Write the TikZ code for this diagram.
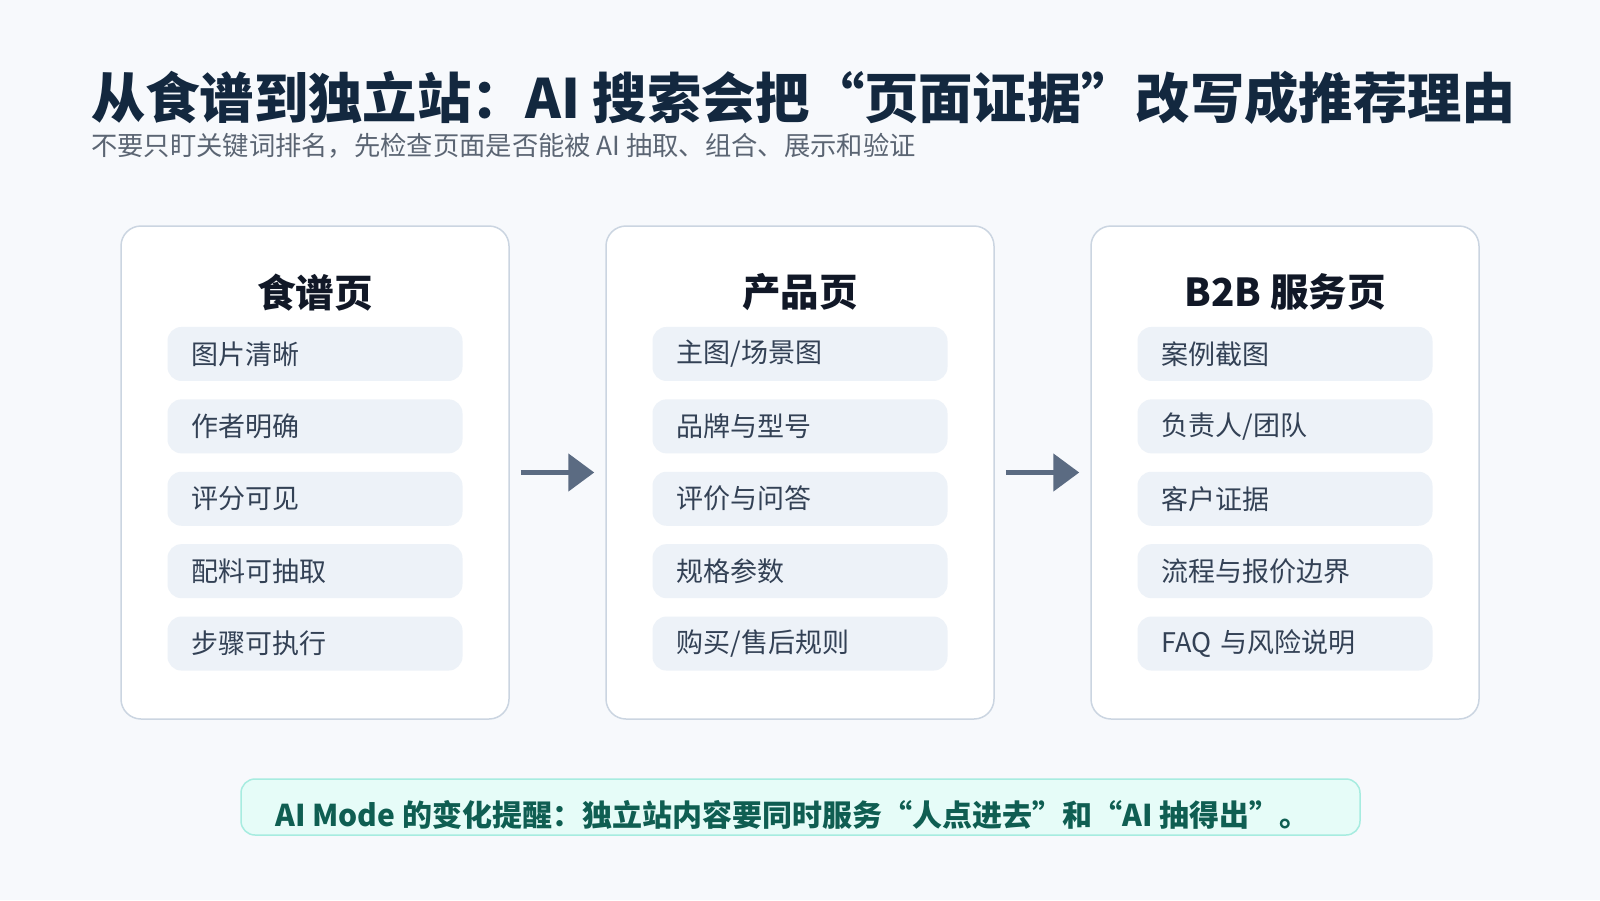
\documentclass[tikz,border=0pt]{standalone}
\usepackage{fontspec}
\setmainfont{Noto Sans CJK SC}
\usepackage{xcolor}
\usetikzlibrary{arrows.meta,positioning}

\definecolor{pagebg}{HTML}{F7F9FC}
\definecolor{titlec}{HTML}{13283F}
\definecolor{subc}{HTML}{5B6573}
\definecolor{cardline}{HTML}{CBD5E1}
\definecolor{headc}{HTML}{111827}
\definecolor{itemfill}{HTML}{EDF2F8}
\definecolor{itemtext}{HTML}{334155}
\definecolor{arrowc}{HTML}{5B6B82}
\definecolor{notefill}{HTML}{E6FCF8}
\definecolor{noteline}{HTML}{A7ECE0}
\definecolor{notetext}{HTML}{0F5E52}

\begin{document}
\begin{tikzpicture}[
      x=1pt, y=-1pt,
      node distance=95.5pt,
      card/.style={draw=cardline, line width=1.5pt, fill=white, rounded corners=20pt, minimum width=388pt, minimum height=493pt},
      cardhead/.style={font=\fontsize{38.5}{42}\selectfont\bfseries, text=headc, inner sep=0pt},
      item/.style={fill=itemfill, rounded corners=14pt, text width=247pt, inner xsep=24pt, inner ysep=0pt, minimum height=54pt, align=left, font=\fontsize{27}{30}\selectfont, text=itemtext},
      arr/.style={-{Triangle[length=26pt, width=37pt]}, line width=5pt, draw=arrowc, shorten <=11pt, shorten >=11pt}
    ]
      \fill[pagebg] (0,0) rectangle (1600,900);
      \useasboundingbox (0,0) rectangle (1600,900);

      \node[anchor=west, inner sep=0pt, text=titlec, font=\fontsize{54.3}{60}\selectfont\bfseries] (title) at (91,98) {从食谱到独立站：AI 搜索会把“页面证据”改写成推荐理由};
      \node[anchor=west, inner sep=0pt, text=subc, font=\fontsize{26.3}{30}\selectfont] (subtitle) at (91,146) {不要只盯关键词排名，先检查页面是否能被 AI 抽取、组合、展示和验证};

      % three page types
      \node[card] (recipe) at (315,472.5) {};
      \node[card, right=of recipe] (product) {};
      \node[card, right=of product] (service) {};

      \node[cardhead, below=67pt of recipe.north, anchor=center] (recipehead) {食谱页};
      \node[item, below=101.5pt of recipe.north] (r1) {图片清晰};
      \node[item, below=18pt of r1] (r2) {作者明确};
      \node[item, below=18pt of r2] (r3) {评分可见};
      \node[item, below=18pt of r3] (r4) {配料可抽取};
      \node[item, below=18pt of r4] (r5) {步骤可执行};

      \node[cardhead, below=67pt of product.north, anchor=center] (producthead) {产品页};
      \node[item, below=101.5pt of product.north] (p1) {主图/场景图};
      \node[item, below=18pt of p1] (p2) {品牌与型号};
      \node[item, below=18pt of p2] (p3) {评价与问答};
      \node[item, below=18pt of p3] (p4) {规格参数};
      \node[item, below=18pt of p4] (p5) {购买/售后规则};

      \node[cardhead, below=67pt of service.north, anchor=center] (servicehead) {B2B 服务页};
      \node[item, below=101.5pt of service.north] (s1) {案例截图};
      \node[item, below=18pt of s1] (s2) {负责人/团队};
      \node[item, below=18pt of s2] (s3) {客户证据};
      \node[item, below=18pt of s3] (s4) {流程与报价边界};
      \node[item, below=18pt of s4] (s5) {FAQ 与风险说明};

      \draw[arr] (recipe) -- (product);
      \draw[arr] (product) -- (service);

      % reminder banner
      \node[draw=noteline, line width=1.5pt, fill=notefill, rounded corners=14pt, minimum width=1119pt, minimum height=56pt] (note) at (800.5,807) {};
      \node[anchor=west, inner sep=0pt, font=\fontsize{30}{34}\selectfont\bfseries, text=notetext] (notetxt) at (275,815) {AI Mode 的变化提醒：独立站内容要同时服务“人点进去”和“AI 抽得出”。};
    \end{tikzpicture}
\end{document}
